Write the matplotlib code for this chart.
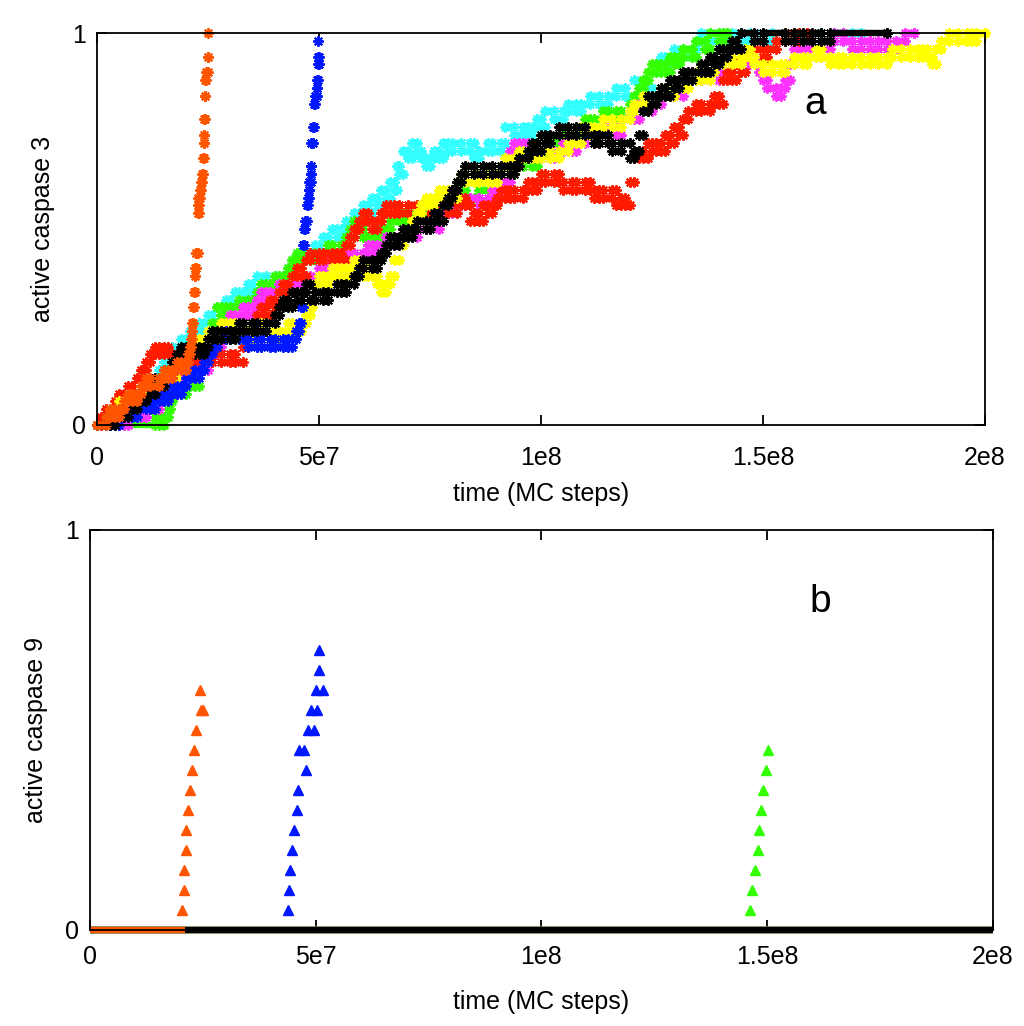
import matplotlib
matplotlib.use("Agg")
import matplotlib.pyplot as plt
import numpy as np

plt.rcParams['font.family'] = ['Liberation Sans', 'DejaVu Sans']

# (time in 1e6 MC steps, number of active molecules)
# top panel: caspase 3, 50 molecules per cell
N3 = 50.0
N9 = 20.0

orange_pts = [(0, 0), (2, 1), (3, 2), (4, 1), (5, 2), (6, 3), (7, 4), (8, 3), (9, 4), (10, 5),
              (11, 6), (12, 5), (14, 6), (15, 7), (16, 6), (17, 7), (18, 8), (19, 7), (20, 8),
              (20.5, 9), (21.0, 10), (21.2, 11), (21.4, 12), (21.5, 13), (21.6, 15), (21.8, 17),
              (22.0, 19), (22.1, 20), (22.2, 22), (22.4, 22), (22.8, 27), (23.0, 28), (22.8, 29),
              (23.2, 30), (23.4, 31), (23.6, 32), (23.8, 34), (24.0, 36), (24.0, 37), (24.2, 39),
              (24.4, 42), (24.4, 44), (24.6, 45), (24.9, 47), (25.1, 50)]

blue_pts = [(0, 0), (3, 1), (4, 0), (5, 1), (7, 2), (8, 1), (9, 2), (11, 3), (12, 2), (13, 3),
            (14, 4), (15, 3), (16, 4), (17, 5), (18, 4), (19, 5), (20, 6), (21, 7), (22, 6),
            (23, 7), (24, 8), (25, 9), (26, 10), (27, 11), (29, 12), (30, 11), (32, 12), (33, 11),
            (34, 10), (36, 11), (37, 10), (39, 11), (40, 10), (42, 11), (43, 10), (44, 11),
            (44.8, 12), (45.5, 13), (46.0, 15), (46.3, 23), (46.6, 25), (46.8, 26), (47.3, 28),
            (47.6, 29), (47.7, 30), (47.8, 31), (48.1, 32), (48.3, 33), (48.3, 36), (48.6, 38),
            (48.9, 41), (49.1, 42), (49.6, 43), (49.5, 44), (49.8, 46), (50.0, 47), (49.8, 49)]

green_pts = [(0, 0), (13, 1), (14, 0), (15, 1), (16, 2), (16.5, 3), (17, 4), (18, 5), (19, 4),
             (20, 5), (21, 6), (22, 5), (23, 7), (24, 9), (25, 11), (26, 13), (27, 15), (28, 14),
             (29, 15), (30, 14), (31, 15), (32, 16), (34, 15), (35, 16), (36, 17), (37, 18),
             (38, 17), (39, 18), (40, 19), (41, 18), (42, 19), (43, 20), (44, 21), (45, 22),
             (46, 21), (48, 22), (49, 21), (50, 22), (52, 23), (53, 22), (55, 23), (56, 24),
             (57, 25), (58, 26), (59, 25), (60, 24), (61, 23), (62, 24), (63, 25), (64, 24),
             (65, 25), (66, 26), (68, 27), (69, 26), (70, 27), (72, 28), (73, 27), (75, 28),
             (77, 29), (78, 28), (80, 29), (82, 30), (83, 29), (85, 31), (86, 30), (88, 31),
             (89, 30), (90, 32), (91, 33), (93, 32), (94, 33), (96, 34), (98, 33), (99, 34),
             (100, 35), (101, 36), (103, 35), (104, 36), (105, 37), (106, 36), (108, 37),
             (109, 38), (110, 39), (111, 38), (112, 39), (114, 40), (115, 39), (117, 40),
             (118, 39), (120, 41), (121, 42), (122, 43), (123, 44), (124, 45), (125, 46),
             (126, 45), (127, 46), (128, 45), (129, 47), (130, 46), (131, 47), (132, 48),
             (134, 47), (135, 49), (137, 48), (138, 50), (140, 49), (141, 50), (142, 50)]

red_pts = [(0, 0), (1, 1), (2, 2), (3, 1), (4, 3), (5, 4), (6, 3), (7, 5), (8, 4), (9, 6), (10, 7),
           (11, 8), (12, 9), (13, 10), (14, 9), (15, 10), (16, 9), (17, 8), (19, 9), (21, 8),
           (23, 9), (24, 8), (26, 9), (28, 8), (30, 9), (31, 8), (33, 10), (34, 11), (35, 13),
           (36, 14), (37, 15), (38, 14), (39, 16), (40, 15), (41, 17), (42, 18), (43, 17),
           (44, 19), (45, 20), (46, 19), (47, 21), (48, 22), (50, 21), (51, 22), (53, 21),
           (54, 22), (55, 21), (56, 23), (57, 24), (58, 25), (59, 26), (60, 27), (61, 26),
           (62, 25), (63, 26), (64, 27), (65, 28), (66, 27), (67, 28), (68, 27), (70, 28),
           (72, 27), (73, 28), (75, 27), (77, 28), (79, 27), (81, 28), (82, 29), (83, 28),
           (84, 26), (85, 27), (86, 26), (87, 28), (88, 27), (89, 28), (90, 29), (91, 30),
           (92, 29), (93, 30), (94, 29), (96, 30), (97, 31), (98, 30), (99, 31), (100, 32),
           (101, 31), (103, 32), (104, 31), (105, 30), (107, 31), (108, 30), (110, 31),
           (111, 30), (112, 29), (113, 30), (114, 29), (116, 30), (117, 28), (118, 29),
           (119, 28), (120, 31), (121, 34), (122, 35), (123, 34), (124, 36), (125, 35),
           (126, 36), (127, 35), (128, 37), (129, 36), (130, 38), (131, 37), (132, 39),
           (133, 40), (135, 41), (136, 40), (138, 41), (139, 42), (140, 41), (141, 44),
           (142, 45), (143, 44), (144, 46), (145, 45), (146, 47), (148, 48), (150, 47),
           (151, 48), (153, 49), (155, 50), (157, 49), (158, 50), (160, 50)]

magenta_pts = [(0, 0), (5, 1), (6, 0), (7, 1), (9, 2), (10, 1), (11, 2), (12, 3), (13, 2),
               (14, 3), (15, 4), (16, 5), (17, 4), (18, 5), (19, 6), (20, 7), (21, 6), (22, 7),
               (23, 8), (24, 7), (25, 8), (26, 9), (27, 10), (28, 12), (29, 13), (30, 14),
               (31, 13), (32, 14), (33, 15), (34, 14), (35, 15), (36, 16), (37, 17), (38, 16),
               (39, 17), (41, 18), (42, 17), (44, 18), (46, 19), (47, 18), (48, 19), (50, 20),
               (51, 21), (52, 20), (53, 21), (54, 22), (55, 21), (56, 22), (58, 21), (60, 22),
               (61, 23), (62, 22), (63, 23), (65, 24), (66, 23), (67, 24), (69, 25), (70, 24),
               (72, 25), (74, 26), (75, 25), (77, 26), (78, 27), (79, 28), (80, 27), (81, 28),
               (82, 29), (83, 28), (84, 29), (86, 28), (88, 29), (89, 30), (90, 29), (91, 30),
               (92, 31), (93, 35), (94, 36), (95, 35), (96, 36), (97, 35), (98, 34), (100, 35),
               (102, 34), (103, 35), (105, 36), (107, 35), (108, 36), (110, 37), (112, 36),
               (113, 37), (115, 38), (117, 37), (118, 39), (120, 40), (121, 39), (122, 41),
               (124, 40), (125, 41), (127, 42), (129, 43), (130, 42), (132, 44), (134, 45),
               (136, 44), (138, 45), (140, 44), (141, 45), (143, 46), (145, 47), (147, 46),
               (149, 45), (150, 44), (151, 43), (153, 42), (154, 43), (155, 44), (156, 46),
               (157, 48), (159, 47), (160, 48), (162, 47), (163, 48), (165, 49), (166, 50),
               (168, 49), (170, 48), (172, 49), (174, 48), (176, 49), (178, 48), (180, 49),
               (182, 50), (184, 50)]

cyan_pts = [(0, 0), (4, 1), (5, 0), (6, 1), (8, 2), (10, 1), (11, 3), (12, 4), (13, 6), (14, 7),
            (15, 8), (16, 9), (17, 10), (19, 11), (20, 10), (21, 12), (23, 13), (24, 12),
            (25, 14), (26, 13), (27, 15), (28, 14), (29, 16), (30, 15), (31, 17), (32, 16),
            (33, 17), (34, 18), (35, 17), (36, 19), (38, 18), (40, 19), (41, 18), (42, 19),
            (43, 20), (44, 21), (45, 20), (46, 22), (47, 21), (48, 22), (49, 23), (50, 22),
            (51, 24), (52, 23), (53, 25), (54, 24), (55, 25), (56, 26), (57, 25), (58, 27),
            (59, 26), (60, 28), (61, 27), (62, 29), (63, 28), (64, 30), (65, 29), (66, 31),
            (67, 30), (67.5, 33), (68, 32), (69, 35), (70, 34), (71, 36), (72, 35), (73, 34),
            (74, 33), (75, 34), (76, 35), (77, 34), (78, 36), (79, 35), (80, 36), (82, 35),
            (84, 36), (85, 34), (86, 35), (88, 36), (89, 35), (91, 36), (92, 38), (94, 37),
            (96, 38), (97, 37), (98, 38), (99, 39), (100, 38), (101, 40), (103, 39), (105, 40),
            (106, 41), (108, 40), (109, 41), (111, 42), (113, 41), (115, 42), (117, 43),
            (119, 42), (121, 44), (123, 43), (125, 45), (126, 46), (127, 47), (128, 46),
            (129, 47), (130, 48), (132, 47), (134, 48), (135, 49), (136, 50), (138, 49),
            (140, 50), (141, 49), (143, 50), (145, 49), (147, 50), (150, 49), (152, 50),
            (158, 49), (160, 50), (163, 49), (166, 50), (168, 49), (170, 50), (172, 50)]

yellow_pts = [(0, 0), (2, 1), (3, 2), (4, 1), (5, 3), (6, 2), (7, 3), (9, 4), (10, 3), (11, 4),
              (12, 5), (13, 4), (14, 5), (15, 6), (16, 7), (17, 6), (18, 8), (19, 7), (20, 9),
              (21, 10), (22, 11), (23, 10), (24, 11), (25, 12), (26, 11), (27, 12), (28, 13),
              (29, 12), (30, 13), (31, 12), (32, 11), (33, 12), (34, 11), (35, 12), (37, 13),
              (38, 12), (40, 11), (41, 12), (43, 13), (44, 12), (46, 13), (47, 14), (48, 15),
              (48.5, 16), (49, 18), (50, 19), (51, 18), (52, 19), (53, 20), (54, 19), (55, 20),
              (56, 19), (57, 20), (58, 21), (59, 20), (60, 19), (61, 20), (62, 19), (63, 18),
              (64, 17), (65, 18), (66, 19), (67, 21), (68, 23), (69, 24), (70, 25), (71, 26),
              (72, 27), (73, 28), (74, 29), (75, 28), (76, 29), (77, 30), (78, 29), (79, 30),
              (80, 29), (81, 31), (82, 32), (83, 31), (85, 32), (86, 31), (88, 32), (89, 31),
              (90, 32), (91, 33), (92, 34), (94, 33), (95, 35), (96, 34), (98, 35), (99, 34),
              (100, 35), (102, 34), (104, 35), (106, 36), (107, 37), (108, 36), (109, 38),
              (111, 37), (112, 38), (114, 39), (116, 38), (118, 39), (120, 40), (121, 41),
              (123, 42), (124, 41), (126, 42), (127, 43), (129, 42), (130, 44), (132, 43),
              (133, 44), (135, 45), (136, 44), (138, 45), (139, 46), (141, 47), (143, 46),
              (145, 47), (146, 48), (147, 47), (148, 46), (150, 45), (152, 46), (154, 45),
              (155, 46), (157, 47), (159, 46), (160, 47), (162, 48), (163, 47), (165, 46),
              (167, 47), (168, 46), (170, 47), (172, 46), (174, 47), (176, 46), (178, 47),
              (179, 48), (181, 47), (183, 48), (185, 47), (186, 48), (187, 47), (188, 46),
              (189, 48), (190, 49), (192, 50), (194, 49), (196, 50), (197, 49), (198, 50),
              (200, 50)]

black_pts = [(0, 0), (2, 1), (3, 0), (4, 1), (5, 2), (6, 1), (7, 3), (8, 2), (9, 4), (10, 3),
             (11, 5), (12, 4), (13, 6), (14, 5), (15, 7), (16, 6), (17, 8), (18, 9), (19, 10),
             (20, 9), (22, 10), (23, 9), (24, 10), (25, 11), (26, 12), (27, 11), (28, 12),
             (30, 11), (31, 12), (32, 13), (33, 12), (35, 13), (36, 12), (38, 13), (40, 14),
             (41, 15), (42, 16), (43, 15), (44, 17), (45, 16), (46, 17), (47, 18), (48, 16),
             (49, 17), (51, 16), (52, 17), (54, 18), (55, 17), (56, 18), (58, 19), (59, 20),
             (60, 21), (62, 20), (63, 21), (64, 22), (65, 23), (66, 24), (67, 23), (68, 24),
             (69, 25), (70, 24), (71, 25), (72, 26), (74, 25), (75, 26), (76, 27), (77, 26),
             (78, 28), (79, 29), (80, 30), (81, 31), (82, 32), (83, 33), (85, 32), (87, 33),
             (89, 32), (91, 33), (93, 32), (94, 33), (95, 34), (97, 35), (98, 36), (99, 35),
             (100, 37), (101, 36), (102, 37), (104, 38), (106, 37), (108, 38), (110, 37),
             (112, 36), (113, 37), (115, 36), (116, 35), (118, 36), (120, 34), (121, 35),
             (122, 37), (123, 40), (124, 42), (125, 41), (126, 42), (127, 43), (128, 42),
             (129, 44), (130, 43), (131, 44), (132, 45), (133, 44), (134, 45), (136, 46),
             (137, 45), (138, 47), (139, 46), (140, 48), (141, 47), (142, 48), (143, 49),
             (144, 48), (145, 50), (148, 49), (150, 50), (155, 49), (157, 50), (159, 49),
             (161, 50), (163, 49), (165, 50), (178, 50)]

# bottom panel: caspase 9, 20 molecules per cell
c9_orange_t = [20.4, 20.8, 20.9, 21.2, 21.3, 21.7, 22.1, 22.5, 23.0, 23.5, 24.4, 24.6, 25.0]
c9_orange_n = [1, 2, 3, 4, 5, 6, 7, 8, 9, 10, 12, 11, 11]
c9_blue_t = [43.9, 44.1, 44.3, 44.7, 45.2, 45.8, 46.0, 46.3, 47.4, 47.8, 48.3, 49.6, 49.0,
             50.3, 50.0, 51.7, 50.8, 50.7]
c9_blue_n = [1, 2, 3, 4, 5, 6, 7, 9, 9, 8, 10, 10, 11, 11, 12, 12, 13, 14]
c9_green_t = [146.2, 146.7, 147.3, 147.9, 148.2, 148.6, 149.1, 149.7, 150.1]
c9_green_n = [1, 2, 3, 4, 5, 6, 7, 8, 9]
# stretches where caspase 9 stays at zero (colour, start, end, width)
c9_zero = [('#88aa66', 0, 200, 5.4), ('black', 0, 200, 4.6), ('#ff5500', 0, 21.0, 4.6)]

series3 = [
    (cyan_pts, '#33ffff'),
    (green_pts, '#33ff00'),
    (magenta_pts, '#ff33ff'),
    (red_pts, '#ff1a00'),
    (yellow_pts, '#ffff00'),
    (blue_pts, '#0018ff'),
    (black_pts, 'black'),
    (orange_pts, '#ff5500'),
]

fig = plt.figure(figsize=(10.24, 10.26), dpi=100)
ax1 = fig.add_axes([0.0947, 0.5858, 0.8672, 0.3820])
ax2 = fig.add_axes([0.0879, 0.0936, 0.8818, 0.3899])

for pts, c in series3:
    t, n = zip(*pts)
    x = np.array(t) * 1e6
    y = np.array(n) / N3
    ax1.hlines(y[:-1], x[:-1], x[1:], colors=c, linewidth=4.6, clip_on=False)
    ax1.plot(x, y, linestyle='none', marker=(8, 2, 0), markersize=7.5, markeredgewidth=1.4,
             color=c, clip_on=False)
    ax1.plot(x[1:], y[:-1], linestyle='none', marker=(8, 2, 0), markersize=7.5,
             markeredgewidth=1.4, color=c, clip_on=False)

for c, a, b, lw in c9_zero:
    ax2.hlines(0, a * 1e6, b * 1e6, colors=c, linewidth=lw, clip_on=False)
for t, n, c in [(c9_orange_t, c9_orange_n, '#ff5500'),
                (c9_blue_t, c9_blue_n, '#0018ff'),
                (c9_green_t, c9_green_n, '#33ff00')]:
    ax2.plot(np.array(t) * 1e6, np.array(n) / N9, linestyle='none', marker='^',
             markersize=6.5, color=c)

xticks = [0, 5e7, 1e8, 1.5e8, 2e8]
xlabels = ['0', '5e7', '1e8', '1.5e8', '2e8']
for ax, lab, letter, lpos, pad, lpad in [(ax1, 'active caspase 3', 'a', (0.797, 0.82), 15, 9),
                                         (ax2, 'active caspase 9', 'b', (0.797, 0.82), 11, 15)]:
    ax.set_xlim(0, 2e8)
    ax.set_ylim(0, 1)
    ax.set_xticks(xticks)
    ax.set_xticklabels(xlabels)
    ax.set_yticks([0, 1])
    ax.set_yticklabels(['0', '1'])
    ax.tick_params(direction='in', length=7, width=1.3, labelsize=18, pad=8,
                   top=True, right=True)
    ax.tick_params(axis='x', pad=pad)
    for s in ax.spines.values():
        s.set_linewidth(1.3)
    ax.set_xlabel('time (MC steps)', fontsize=18, labelpad=lpad)
    ax.set_ylabel(lab, fontsize=18, labelpad=12)
    ax.text(lpos[0], lpos[1], letter, transform=ax.transAxes, fontsize=28,
            ha='left', va='center')

fig.savefig('out.png', dpi=100)
